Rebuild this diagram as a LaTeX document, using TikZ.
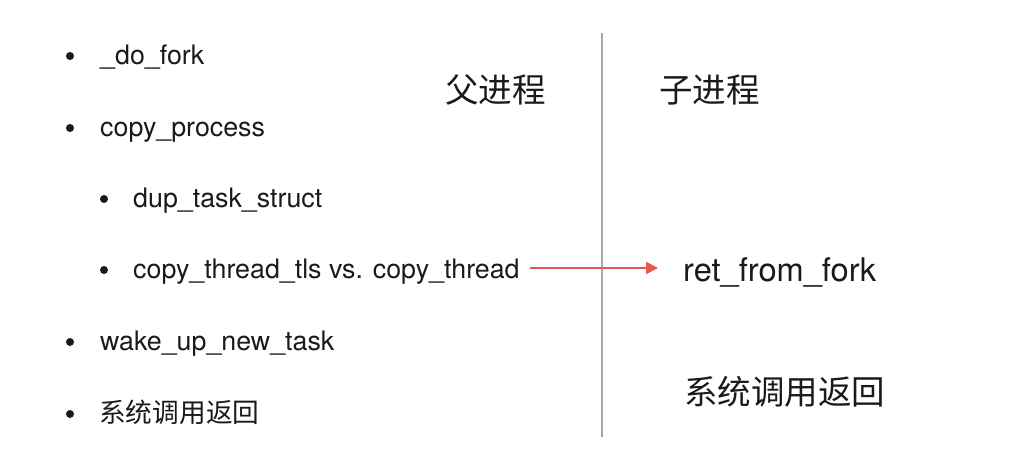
\documentclass[tikz,border=0pt]{standalone}
\usepackage{fontspec}
\setmainfont{TeX Gyre Heros}
\newfontfamily\cjk{Noto Sans CJK SC}
\usetikzlibrary{arrows.meta}
\definecolor{txt}{HTML}{1A1A1A}
\definecolor{divider}{HTML}{A8A8A8}
\definecolor{arrowred}{HTML}{E8574F}
\tikzset{
  item/.style={anchor=base west, inner sep=0pt, text=txt, font=\fontsize{26.8}{30}\selectfont},
  citem/.style={anchor=base west, inner sep=0pt, text=txt, font=\cjk\fontsize{26.7}{30}\selectfont},
  bigc/.style={anchor=base west, inner sep=0pt, text=txt, font=\cjk\fontsize{33.5}{36}\selectfont},
  big/.style={anchor=base west, inner sep=0pt, text=txt, font=\fontsize{32.6}{36}\selectfont},
  dot/.style={circle, fill=txt, inner sep=0pt, minimum size=8pt},
}
\begin{document}
\begin{tikzpicture}[x=1pt,y=-1pt]
\useasboundingbox (0,0) rectangle (1033,448);
% bullets
\node[dot] (b1) at (70,56) {};
\node[dot] (b2) at (70,128) {};
\node[dot] (b3) at (104,199) {};
\node[dot] (b4) at (104,270) {};
\node[dot] (b5) at (70,342) {};
\node[dot] (b6) at (70,414) {};
% items
\node[item] (t1) at (100,64) {\_do\_fork};
\node[item] (t2) at (100,136) {copy\_process};
\node[item] (t3) at (133,207) {dup\_task\_struct};
\node[item] (t4) at (133,278) {copy\_thread\_tls vs. copy\_thread};
\node[item] (t5) at (100,350) {wake\_up\_new\_task};
\node[citem] (t6) at (99,422) {系统调用返回};
% headings
\node[bigc] (parent) at (445,102) {父进程};
\node[bigc] (child) at (659,102) {子进程};
% divider
\coordinate (dtop) at (602,33);
\coordinate (dbot) at (602,437);
\draw[divider, line width=1.5pt] (dtop) -- (dbot);
% right side
\node[big] (ret) at (683,281) {ret\_from\_fork};
\node[bigc] (sys) at (684,404) {系统调用返回};
% arrow
\coordinate (astart) at (530,268);
\coordinate (aend) at (658,268);
\draw[arrowred, line width=2pt, -{Triangle[length=12pt,width=12pt]}] (astart) -- (aend);
\end{tikzpicture}
\end{document}
